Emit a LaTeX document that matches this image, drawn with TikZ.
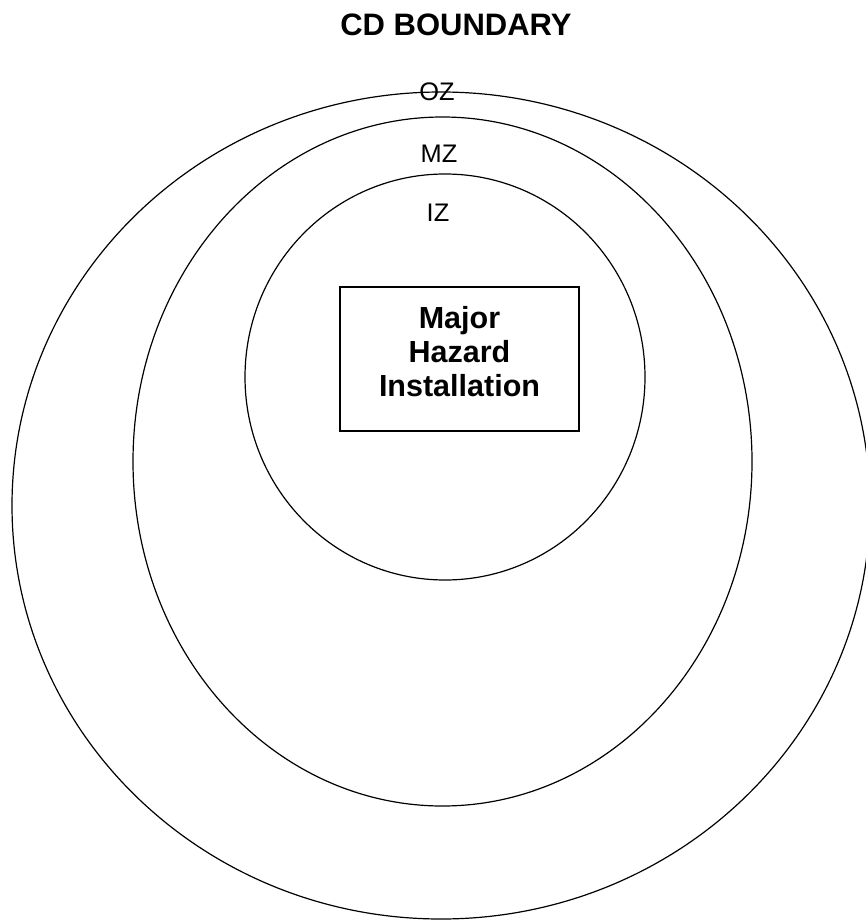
\documentclass[tikz,border=0pt]{standalone}
\usepackage{fontspec}
\setmainfont{Liberation Sans}
\usetikzlibrary{positioning,calc}

\begin{document}
\begin{tikzpicture}[x=1pt,y=-1pt,line width=1.2pt,
  zonelabel/.style={inner sep=0pt,font=\fontsize{25.4}{30}\selectfont},
  boldtext/.style={inner sep=0pt,align=center,font=\fontsize{30.5}{34}\selectfont\bfseries}]
\useasboundingbox (0,0) rectangle (866,920);
% zones, outer to inner
\draw (441,505.5) ellipse [x radius=429,y radius=413.5];
\draw (442.5,461.5) ellipse [x radius=309.5,y radius=344.5];
\draw (445,377) ellipse [x radius=200,y radius=203];
\node[boldtext,font=\fontsize{31}{34}\selectfont\bfseries] (title) at (456,25) {CD BOUNDARY};
\node[zonelabel] (oz) at (437,91.5) {OZ};
\node[zonelabel] (mz) at (439,154) {MZ};
\node[zonelabel] (iz) at (438,213) {IZ};
% installation
\node[draw,minimum width=239,minimum height=144,inner sep=0pt] (mhibox) at (459.5,359) {};
\node[boldtext] (mhi) at ($(mhibox.center)+(0,-7)$) {Major\\Hazard\\Installation};
\end{tikzpicture}
\end{document}
